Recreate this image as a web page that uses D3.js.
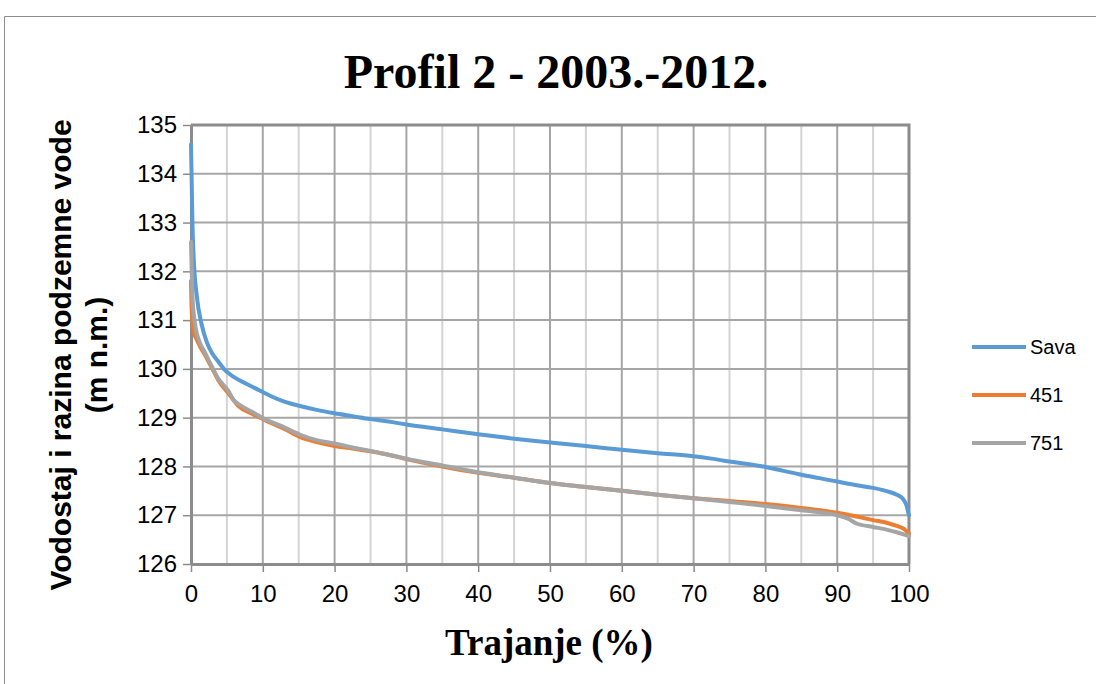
<!DOCTYPE html>
<html>
<head>
<meta charset="utf-8">
<script src="https://cdn.jsdelivr.net/npm/d3@7"></script>
<style>
  html, body { margin: 0; padding: 0; background: #fff; }
  #chart { width: 1096px; height: 684px; }
</style>
</head>
<body>
<div id="chart"></div>
<script>
// ------- data -------
const seriesNames = ["Sava", "451", "751"];

const savaX = [0, 0.1, 0.2, 0.4, 0.8, 1.5, 2.2, 2.9, 3.8, 4.7, 6, 7.5, 9, 10.3, 11, 13, 15.2, 17.5, 20, 22.5, 25, 27.5, 30, 35, 40, 45, 50, 55, 60, 65, 70, 72.5, 75, 77.5, 80, 82.5, 85, 87.5, 90, 92.5, 95, 97, 98.3, 99, 99.4, 99.7, 99.9, 100];
const savaY = [134.6, 133.8, 133.0, 132.2, 131.5, 130.9, 130.55, 130.33, 130.15, 129.98, 129.83, 129.71, 129.6, 129.5, 129.45, 129.33, 129.24, 129.16, 129.09, 129.03, 128.97, 128.92, 128.86, 128.76, 128.66, 128.57, 128.49, 128.42, 128.34, 128.27, 128.21, 128.16, 128.1, 128.05, 127.99, 127.91, 127.83, 127.76, 127.69, 127.62, 127.56, 127.49, 127.42, 127.36, 127.28, 127.18, 127.05, 127.0];

const p451X = [0, 0.1, 0.3, 0.5, 0.8, 1.3, 1.9, 2.9, 3.8, 5.2, 6.6, 8.5, 10.3, 13, 15.2, 17.5, 20, 22.5, 25, 27.5, 30, 35, 40, 45, 50, 55, 60, 65, 70, 75, 80, 85, 90, 92.5, 95, 97, 98.3, 99.3, 100];
const p451Y = [131.8, 131.2, 130.85, 130.7, 130.6, 130.45, 130.3, 130.02, 129.77, 129.5, 129.24, 129.08, 128.95, 128.77, 128.6, 128.5, 128.42, 128.37, 128.31, 128.24, 128.15, 128.0, 127.87, 127.77, 127.66, 127.58, 127.5, 127.42, 127.35, 127.29, 127.23, 127.15, 127.05, 126.98, 126.9, 126.84, 126.78, 126.72, 126.62];

const p751X = [0, 0.1, 0.2, 0.4, 0.7, 1.2, 1.9, 2.9, 3.8, 5.2, 6.0, 6.6, 8.5, 10.3, 13, 15.2, 17.5, 20, 22.5, 25, 27.5, 30, 35, 40, 45, 50, 55, 60, 65, 70, 75, 80, 85, 90, 91.5, 92.7, 95, 97, 98.3, 100];
const p751Y = [132.6, 132.0, 131.5, 131.1, 130.8, 130.55, 130.35, 130.05, 129.8, 129.55, 129.35, 129.28, 129.12, 128.97, 128.8, 128.65, 128.54, 128.47, 128.39, 128.32, 128.24, 128.16, 128.02, 127.88, 127.77, 127.66, 127.58, 127.5, 127.42, 127.35, 127.27, 127.19, 127.1, 127.0, 126.93, 126.83, 126.76, 126.7, 126.65, 126.57];

const xTicks = [0, 10, 20, 30, 40, 50, 60, 70, 80, 90, 100];
const yTicks = [126, 127, 128, 129, 130, 131, 132, 133, 134, 135];

(() => {
  const width = 1096, height = 684;
  const plot = { left: 191, right: 909, top: 125, bottom: 564 };
  const colors = ["#5B9BD5", "#ED7D31", "#A5A5A5"];
  const sans = "'Liberation Sans', Arial, sans-serif";
  const serif = "'Liberation Serif', 'Times New Roman', serif";

  const series = [
    { name: seriesNames[0], pts: savaX.map((x, i) => ({ x, y: savaY[i] })) },
    { name: seriesNames[1], pts: p451X.map((x, i) => ({ x, y: p451Y[i] })) },
    { name: seriesNames[2], pts: p751X.map((x, i) => ({ x, y: p751Y[i] })) }
  ];

  const svg = d3.select("#chart").append("svg")
    .attr("width", width).attr("height", height)
    .style("font-family", sans);

  // chart frame (only left/top visible in the reference)
  svg.append("path")
    .attr("d", `M4.5,${height + 2}V16.5H${width + 2}`)
    .attr("fill", "none").attr("stroke", "#8c8c8c").attr("stroke-width", 1);

  const x = d3.scaleLinear().domain([0, 100]).range([plot.left, plot.right]);
  const y = d3.scaleLinear().domain([126, 135]).range([plot.bottom, plot.top]);

  // minor vertical grid (every 5)
  svg.append("g").selectAll("line")
    .data(d3.range(5, 100, 10))
    .join("line")
    .attr("x1", d => x(d)).attr("x2", d => x(d))
    .attr("y1", plot.top).attr("y2", plot.bottom)
    .attr("stroke", "#d4d4d4").attr("stroke-width", 2);

  // major grid
  svg.append("g").selectAll("line")
    .data(xTicks.slice(1))
    .join("line")
    .attr("x1", d => x(d)).attr("x2", d => x(d))
    .attr("y1", plot.top).attr("y2", plot.bottom)
    .attr("stroke", "#a6a6a6").attr("stroke-width", 2);

  svg.append("g").selectAll("line")
    .data(yTicks.slice(1))
    .join("line")
    .attr("x1", plot.left).attr("x2", plot.right)
    .attr("y1", d => y(d)).attr("y2", d => y(d))
    .attr("stroke", "#a6a6a6").attr("stroke-width", 2);

  // axes
  const xAxis = d3.axisBottom(x).tickValues(xTicks).tickSize(8).tickSizeOuter(0).tickPadding(13);
  const yAxis = d3.axisLeft(y).tickValues(yTicks).tickSize(8).tickSizeOuter(0).tickPadding(6);

  svg.append("g")
    .attr("transform", `translate(0,${plot.bottom})`)
    .call(xAxis)
    .call(g => g.select(".domain").attr("stroke", "#8c8c8c").attr("stroke-width", 3))
    .call(g => g.selectAll(".tick line").attr("stroke", "#8c8c8c").attr("stroke-width", 1.5))
    .call(g => g.selectAll("text").attr("fill", "#000").style("font-size", "24px").style("font-family", sans));

  svg.append("g")
    .attr("transform", `translate(${plot.left},0)`)
    .call(yAxis)
    .call(g => g.select(".domain").attr("stroke", "#8c8c8c").attr("stroke-width", 3))
    .call(g => g.selectAll(".tick line").attr("stroke", "#8c8c8c").attr("stroke-width", 1.5))
    .call(g => g.selectAll("text").attr("fill", "#000").style("font-size", "24px").style("font-family", sans));

  // top / right plot border
  svg.append("path")
    .attr("d", `M${plot.left},${plot.top}H${plot.right}V${plot.bottom}`)
    .attr("fill", "none").attr("stroke", "#8c8c8c").attr("stroke-width", 3);

  // lines
  const line = d3.line()
    .x(d => x(d.x)).y(d => y(d.y))
    .curve(d3.curveMonotoneX);

  svg.append("g").selectAll("path")
    .data(series)
    .join("path")
    .attr("d", d => line(d.pts))
    .attr("fill", "none")
    .attr("stroke", (d, i) => colors[i])
    .attr("stroke-width", 4)
    .attr("stroke-linejoin", "round")
    .attr("stroke-linecap", "round");

  // title
  svg.append("text")
    .attr("x", 556).attr("y", 88)
    .attr("text-anchor", "middle")
    .style("font-family", serif)
    .style("font-weight", "bold")
    .style("font-size", "48px")
    .text("Profil 2 - 2003.-2012.");

  // x axis title
  svg.append("text")
    .attr("x", 549).attr("y", 655)
    .attr("text-anchor", "middle")
    .style("font-family", serif)
    .style("font-weight", "bold")
    .style("font-size", "37px")
    .text("Trajanje (%)");

  // y axis title (two lines)
  const yt = svg.append("g").attr("transform", "translate(0,355) rotate(-90)");
  yt.append("text")
    .attr("x", 0).attr("y", 71)
    .attr("text-anchor", "middle")
    .style("font-weight", "bold")
    .style("font-size", "30px")
    .text("Vodostaj i razina podzemne vode");
  yt.append("text")
    .attr("x", 0).attr("y", 107)
    .attr("text-anchor", "middle")
    .style("font-weight", "bold")
    .style("font-size", "30px")
    .text("(m n.m.)");

  // legend
  const legend = svg.append("g").attr("transform", "translate(972,347)");
  seriesNames.forEach((name, i) => {
    const row = legend.append("g").attr("transform", `translate(0,${i * 48})`);
    row.append("line")
      .attr("x1", 0).attr("x2", 54)
      .attr("stroke", colors[i]).attr("stroke-width", 4);
    row.append("text")
      .attr("x", 58).attr("y", 7)
      .style("font-size", "20px")
      .attr("fill", "#000")
      .text(name);
  });
})();
</script>
</body>
</html>
